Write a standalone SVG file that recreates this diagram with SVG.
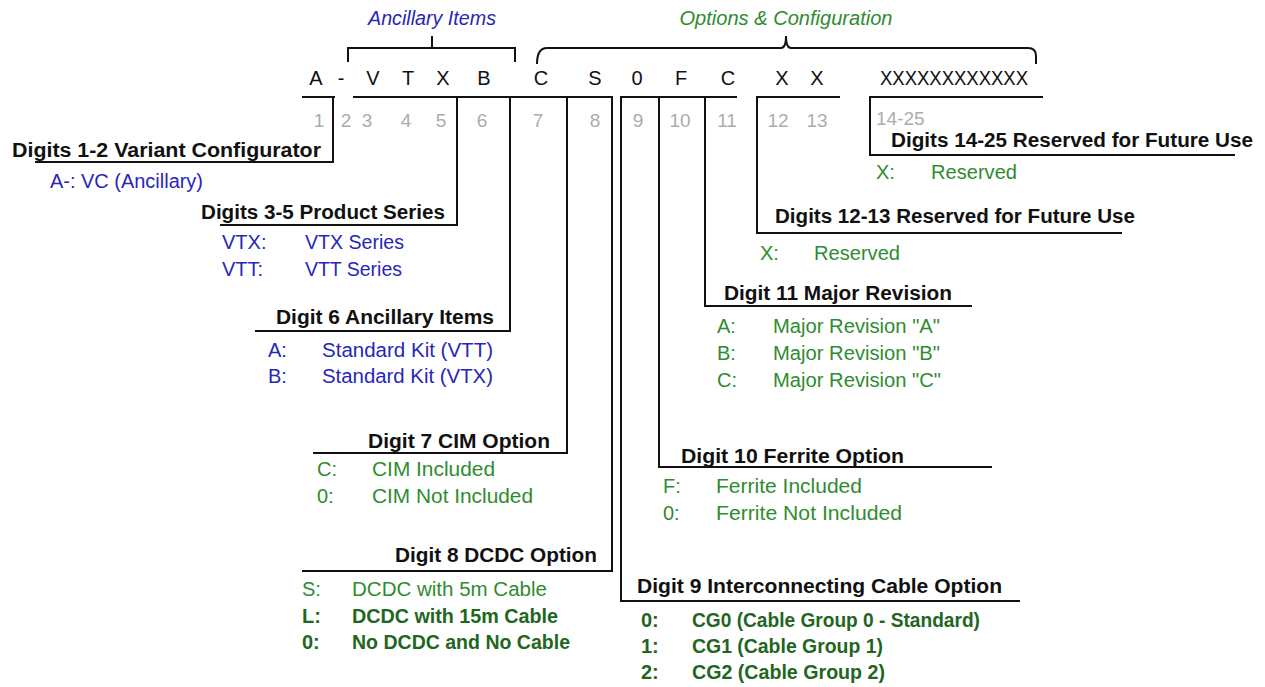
<svg xmlns="http://www.w3.org/2000/svg" width="1265" height="687" viewBox="0 0 1265 687">
<style>
text{font-family:"Liberation Sans",Arial,sans-serif;}
.code{font-size:20px;fill:#111;text-anchor:middle;}
.num{font-size:19px;fill:#acacac;text-anchor:middle;}
.numl{font-size:19px;fill:#acacac;text-anchor:start;}
.hdr{font-size:20px;font-weight:bold;fill:#111;}
.blue{font-size:20px;fill:#2727b8;}
.green{font-size:20px;fill:#2f8c2f;}
.dgreen{font-size:20px;font-weight:bold;fill:#1f661f;}
.grp{font-size:20px;font-style:italic;text-anchor:middle;}
.ln{fill:none;stroke:#111;stroke-width:2;}
</style>
<rect width="1265" height="687" fill="#fff"/>

<g id="brackets">
<path class="ln" d="M348,62 V48 H515 V62 M432,48 V36"/>
<path class="ln" d="M537,64 Q537,48 547,48 H781 Q786,48 786,36 Q786,48 791,48 H1028 Q1036,48 1036,56 V64" stroke-width="2.5"/>
<text class="grp" x="432" y="25" fill="#2727b8" textLength="128" lengthAdjust="spacingAndGlyphs">Ancillary Items</text>
<text class="grp" x="786" y="25" fill="#2f8c2f" textLength="213" lengthAdjust="spacingAndGlyphs">Options &amp; Configuration</text>
</g>

<g id="code">
<text class="code" x="316" y="85">A</text>
<text class="code" x="341" y="85">-</text>
<text class="code" x="373" y="85">V</text>
<text class="code" x="408" y="85">T</text>
<text class="code" x="443" y="85">X</text>
<text class="code" x="484" y="85">B</text>
<text class="code" x="541" y="85">C</text>
<text class="code" x="595" y="85">S</text>
<text class="code" x="637" y="85">0</text>
<text class="code" x="681" y="85">F</text>
<text class="code" x="728" y="85">C</text>
<text class="code" x="782" y="85">X</text>
<text class="code" x="817" y="85">X</text>
<text class="code" x="954" y="85" textLength="148" lengthAdjust="spacingAndGlyphs">XXXXXXXXXXXX</text>
</g>

<g id="digit-numbers">
<text class="num" x="319" y="127">1</text>
<text class="num" x="346" y="127">2</text>
<text class="num" x="367" y="127">3</text>
<text class="num" x="406" y="127">4</text>
<text class="num" x="441" y="127">5</text>
<text class="num" x="482" y="127">6</text>
<text class="num" x="538" y="127">7</text>
<text class="num" x="595" y="127">8</text>
<text class="num" x="638" y="127">9</text>
<text class="num" x="680" y="127">10</text>
<text class="num" x="727" y="127">11</text>
<text class="num" x="778" y="127">12</text>
<text class="num" x="817" y="127">13</text>
<text class="numl" x="876" y="125">14-25</text>
</g>

<g id="connectors">
<path class="ln" d="M302,97 H335 M333,97 V162 H35"/>
<path class="ln" d="M353,97 H457 V225 H220"/>
<path class="ln" d="M457,97 H510 V331 H255"/>
<path class="ln" d="M510,97 H567 V453 H313"/>
<path class="ln" d="M567,97 H612 V571 H302"/>
<path class="ln" d="M659,97 H621 V601 H1020"/>
<path class="ln" d="M705,97 H659 V467 H992"/>
<path class="ln" d="M737,97 H705 V306 H972"/>
<path class="ln" d="M840,97 H757 V233 H1122"/>
<path class="ln" d="M1043,97 H870 V155 H1235"/>
</g>

<g id="digits-1-2">
<text class="hdr" x="12" y="157" textLength="309" lengthAdjust="spacingAndGlyphs">Digits 1-2 Variant Configurator</text>
<text class="blue" x="50" y="188" textLength="153" lengthAdjust="spacingAndGlyphs">A-: VC (Ancillary)</text>
</g>

<g id="digits-3-5">
<text class="hdr" x="201" y="219" textLength="244" lengthAdjust="spacingAndGlyphs">Digits 3-5 Product Series</text>
<text class="blue" x="222" y="249">VTX:</text>
<text class="blue" x="305" y="249" textLength="99" lengthAdjust="spacingAndGlyphs">VTX Series</text>
<text class="blue" x="222" y="276">VTT:</text>
<text class="blue" x="305" y="276" textLength="97" lengthAdjust="spacingAndGlyphs">VTT Series</text>
</g>

<g id="digit-6">
<text class="hdr" x="276" y="324" textLength="218" lengthAdjust="spacingAndGlyphs">Digit 6 Ancillary Items</text>
<text class="blue" x="268" y="357">A:</text>
<text class="blue" x="322" y="357" textLength="171" lengthAdjust="spacingAndGlyphs">Standard Kit (VTT)</text>
<text class="blue" x="268" y="383">B:</text>
<text class="blue" x="322" y="383" textLength="171" lengthAdjust="spacingAndGlyphs">Standard Kit (VTX)</text>
</g>

<g id="digit-7">
<text class="hdr" x="368" y="448" textLength="182" lengthAdjust="spacingAndGlyphs">Digit 7 CIM Option</text>
<text class="green" x="317" y="476">C:</text>
<text class="green" x="372" y="476" textLength="123" lengthAdjust="spacingAndGlyphs">CIM Included</text>
<text class="green" x="317" y="503">0:</text>
<text class="green" x="372" y="503" textLength="161" lengthAdjust="spacingAndGlyphs">CIM Not Included</text>
</g>

<g id="digit-8">
<text class="hdr" x="395" y="562" textLength="202" lengthAdjust="spacingAndGlyphs">Digit 8 DCDC Option</text>
<text class="green" x="302" y="596">S:</text>
<text class="green" x="352" y="596" textLength="195" lengthAdjust="spacingAndGlyphs">DCDC with 5m Cable</text>
<text class="dgreen" x="302" y="623">L:</text>
<text class="dgreen" x="352" y="623" textLength="206" lengthAdjust="spacingAndGlyphs">DCDC with 15m Cable</text>
<text class="dgreen" x="302" y="649">0:</text>
<text class="dgreen" x="352" y="649" textLength="218" lengthAdjust="spacingAndGlyphs">No DCDC and No Cable</text>
</g>

<g id="digit-9">
<text class="hdr" x="637" y="593" textLength="365" lengthAdjust="spacingAndGlyphs">Digit 9 Interconnecting Cable Option</text>
<text class="dgreen" x="641" y="627">0:</text>
<text class="dgreen" x="692" y="627" textLength="288" lengthAdjust="spacingAndGlyphs">CG0 (Cable Group 0 - Standard)</text>
<text class="dgreen" x="641" y="653">1:</text>
<text class="dgreen" x="692" y="653" textLength="191" lengthAdjust="spacingAndGlyphs">CG1 (Cable Group 1)</text>
<text class="dgreen" x="641" y="679">2:</text>
<text class="dgreen" x="692" y="679" textLength="193" lengthAdjust="spacingAndGlyphs">CG2 (Cable Group 2)</text>
</g>

<g id="digit-10">
<text class="hdr" x="681" y="463" textLength="223" lengthAdjust="spacingAndGlyphs">Digit 10 Ferrite Option</text>
<text class="green" x="663" y="493">F:</text>
<text class="green" x="716" y="493" textLength="146" lengthAdjust="spacingAndGlyphs">Ferrite Included</text>
<text class="green" x="663" y="520">0:</text>
<text class="green" x="716" y="520" textLength="186" lengthAdjust="spacingAndGlyphs">Ferrite Not Included</text>
</g>

<g id="digit-11">
<text class="hdr" x="724" y="300" textLength="228" lengthAdjust="spacingAndGlyphs">Digit 11 Major Revision</text>
<text class="green" x="717" y="333">A:</text>
<text class="green" x="773" y="333" textLength="167" lengthAdjust="spacingAndGlyphs">Major Revision "A"</text>
<text class="green" x="717" y="360">B:</text>
<text class="green" x="773" y="360" textLength="167" lengthAdjust="spacingAndGlyphs">Major Revision "B"</text>
<text class="green" x="717" y="387">C:</text>
<text class="green" x="773" y="387" textLength="168" lengthAdjust="spacingAndGlyphs">Major Revision "C"</text>
</g>

<g id="digits-12-13">
<text class="hdr" x="775" y="223" textLength="360" lengthAdjust="spacingAndGlyphs">Digits 12-13 Reserved for Future Use</text>
<text class="green" x="760" y="260">X:</text>
<text class="green" x="814" y="260" textLength="86" lengthAdjust="spacingAndGlyphs">Reserved</text>
</g>

<g id="digits-14-25">
<text class="hdr" x="891" y="147" textLength="362" lengthAdjust="spacingAndGlyphs">Digits 14-25 Reserved for Future Use</text>
<text class="green" x="876" y="179">X:</text>
<text class="green" x="931" y="179" textLength="86" lengthAdjust="spacingAndGlyphs">Reserved</text>
</g>
</svg>
